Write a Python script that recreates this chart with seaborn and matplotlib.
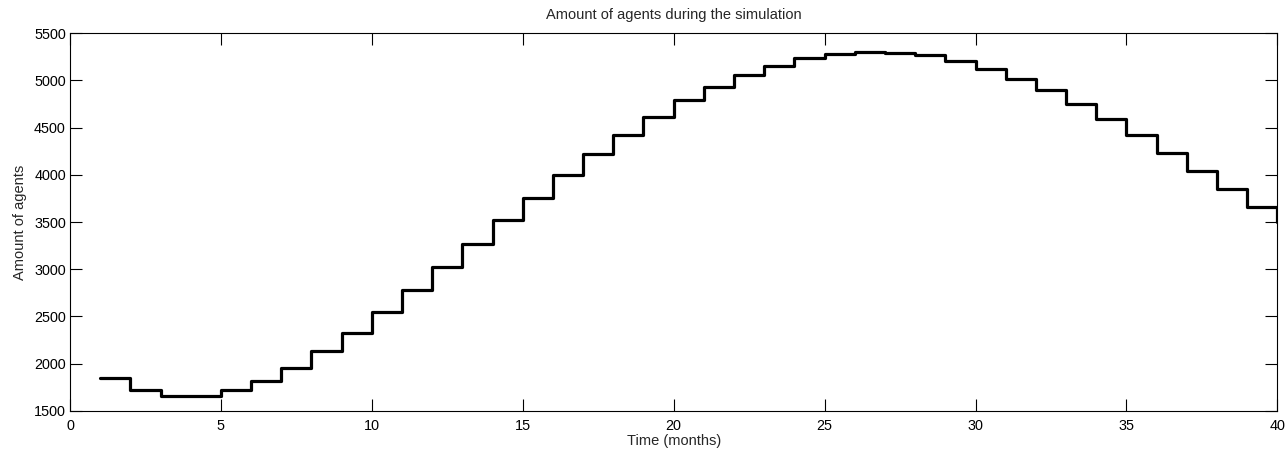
import numpy as np
import pandas as pd
import matplotlib
matplotlib.use("Agg")
import matplotlib.pyplot as plt
import seaborn as sns

months = list(range(1, 41))
agents = [1850, 1719, 1659, 1658, 1716, 1815, 1956, 2130, 2327, 2543,
          2779, 3020, 3270, 3518, 3758, 3998, 4217, 4425, 4616, 4793,
          4934, 5058, 5157, 5235, 5284, 5300, 5294, 5267, 5210, 5125,
          5019, 4896, 4751, 4592, 4419, 4235, 4044, 3853, 3662, 3497]

title = "Amount of agents during the simulation"
xlabel = "Time (months)"
ylabel = "Amount of agents"
xticks = [0, 5, 10, 15, 20, 25, 30, 35, 40]
yticks = [1500, 2000, 2500, 3000, 3500, 4000, 4500, 5000, 5500]

sns.set_style("white")
plt.rcParams['font.family'] = ['Liberation Sans', 'DejaVu Sans']

df = pd.DataFrame({"month": months, "agents": agents})

fig = plt.figure(figsize=(12.87, 4.49), dpi=100)
ax = fig.add_axes([0.0544, 0.0853, 0.9381, 0.8405])

sns.lineplot(data=df, x="month", y="agents", ax=ax, color="black",
             linewidth=2.3, drawstyle="steps-post")

ax.set_xlim(0, 40)
ax.set_ylim(1500, 5500)
ax.set_xticks(xticks)
ax.set_yticks(yticks)
ax.tick_params(direction="in", length=8.5, width=0.8, color="black",
               top=True, right=True, bottom=True, left=True,
               labelsize=10.4, labelcolor="black")
ax.tick_params(axis="x", pad=6)
ax.tick_params(axis="y", pad=3)
for s in ax.spines.values():
    s.set_color("black")
    s.set_linewidth(0.8)
    s.set_visible(True)

ax.set_title(title, fontsize=10.5, pad=10)
ax.set_xlabel(xlabel, fontsize=10.5, labelpad=1)
ax.set_ylabel(ylabel, fontsize=10.5, labelpad=5)

fig.savefig("out.png", dpi=100, facecolor="white")
